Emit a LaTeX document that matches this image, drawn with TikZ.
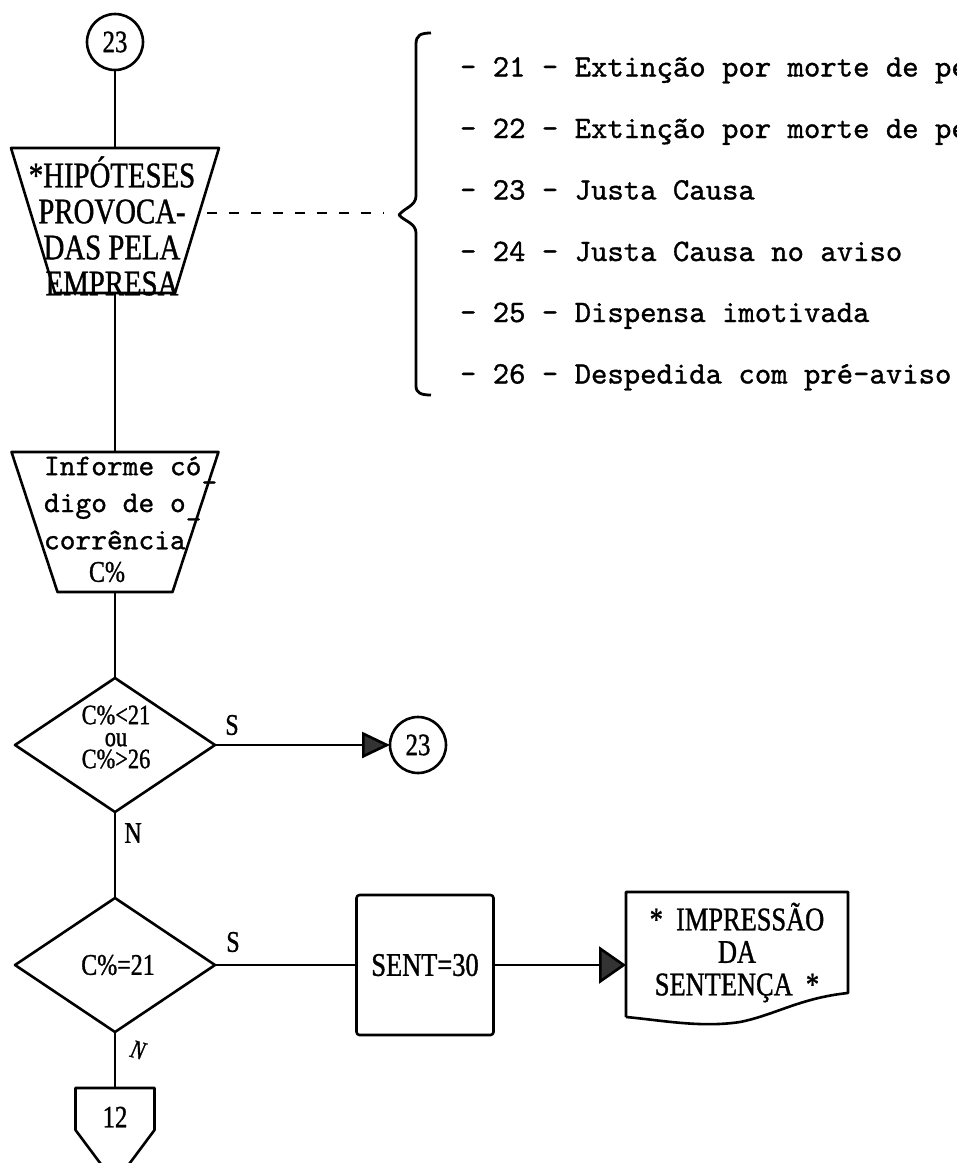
\documentclass[tikz,border=0pt]{standalone}
\usepackage{fontspec}
% typewriter faces: a condensed serif for the boxes, a mono for the code list
\newfontfamily\tw{Liberation Serif}[FakeStretch=0.8,FakeBold=1]
\newfontfamily\typewr{lmmono10-regular.otf}[FakeBold=1]
\usetikzlibrary{shapes.geometric,arrows.meta,calc}

\tikzset{
  every node/.style={inner sep=0pt, outer sep=0pt},
  frame/.style={rectangle, draw=none},
  conn/.style={circle, draw, minimum size=28pt, font=\tw\fontsize{15.5pt}{15.5pt}\selectfont},
  decision/.style={diamond, draw, shape aspect=1.5, minimum width=100pt, minimum height=67pt},
  procbox/.style={rectangle, draw, rounded corners=1.5pt, minimum width=68.5pt, minimum height=70pt,
    font=\tw\fontsize{16.5pt}{16.5pt}\selectfont},
  boxtext/.style={align=center, font=\tw\fontsize{18pt}{18pt}\selectfont},
  condtext/.style={align=center, font=\tw\fontsize{14pt}{11pt}\selectfont},
  lbl/.style={font=\tw\fontsize{15pt}{15pt}\selectfont},
  listitem/.style={anchor=base west, font=\typewr\fontsize{15.6pt}{15.6pt}\selectfont},
  tipA/.style={-{Triangle[length=14pt,width=13pt,fill=black!80]}},
  tipB/.style={-{Triangle[length=13.5pt,width=18.5pt,fill=black!80]}},
  refline/.style={dash pattern=on 5pt off 6pt},
}

\begin{document}
\begin{tikzpicture}[x=0.5pt,y=-0.5pt,line width=1.3pt,line join=round]
\fill[white] (0,0) rectangle (957,1163);
\useasboundingbox (0,0) rectangle (957,1163);

% entry connector
\node[conn] (c1) at (115,42) {23};

% manual operation: company-caused cases
\node[frame, minimum width=104pt, minimum height=72.5pt] (hyp) at (115,220.5) {};
\draw (hyp.north west) -- (hyp.north east) -- ($(hyp.south east)+(-44,0)$)
      -- ($(hyp.south west)+(44,0)$) -- cycle;
\node[boxtext] (hyptext) at (112,226)
  {*HIPÓTESES\\PROVOCA-\\DAS PELA\\EMPRESA};

% list of occurrence codes
\coordinate (dashL) at (207,213);
\coordinate (dashR) at (384,213);
\draw[refline] (dashL) -- (dashR);
\draw[line width=1.4pt] (431,33) .. controls (421,33) and (416,35) .. (416,44)
  -- (416,196) .. controls (416,206) and (404,208) .. (399,215)
  .. controls (404,221) and (416,223) .. (416,233)
  -- (416,386) .. controls (416,393) and (421,395) .. (431,395);
\node[listitem] (it21) at (460,76.5)  {- 21 - Extinção por morte de pe};
\node[listitem] (it22) at (460,138)   {- 22 - Extinção por morte de pe};
\node[listitem] (it23) at (460,199.5) {- 23 - Justa Causa};
\node[listitem] (it24) at (460,261)   {- 24 - Justa Causa no aviso};
\node[listitem] (it25) at (460,322)   {- 25 - Dispensa imotivada};
\node[listitem] (it26) at (460,383.5) {- 26 - Despedida com pré-aviso};

% manual input of the code
\node[frame, minimum width=103.5pt, minimum height=70pt] (inf) at (115,522) {};
\draw (inf.north west) -- (inf.north east) -- ($(inf.south east)+(-46,0)$)
      -- ($(inf.south west)+(46,0)$) -- cycle;
\node[anchor=west, align=left, font=\typewr\fontsize{15pt}{16.75pt}\selectfont] (inftext) at (44,503)
  {Informe có\rlap{\raisebox{-0.55em}{-}}\\digo de o\rlap{\raisebox{-0.55em}{-}}\\corrência};
\node[font=\tw\fontsize{15pt}{15pt}\selectfont] (infvar) at (107,572) {C\%};

% range test
\node[decision] (d1) at (115,745) {};
\node[condtext] (d1text) at (116,737) {C\%<21\\ou\\C\%>26};
\node[conn] (c2) at (418,745) {23};
\node[lbl] (s1) at (232,725) {S};
\node[lbl] (n1) at (133,833) {N};

% code 21 test
\node[decision] (d2) at (115,965) {};
\node[font=\tw\fontsize{15pt}{15pt}\selectfont] (d2text) at (118,965) {C\%=21};
\node[lbl] (s2) at (233,942) {S};
\node[font=\tw\itshape\fontsize{13pt}{13pt}\selectfont, rotate=-15] (n2) at (138,1050) {N};

\node[procbox] (sent) at (425,965) {SENT=30};

% printed document
\node[frame, minimum width=111pt, minimum height=62.5pt] (prt) at (737,954.5) {};
\draw (prt.south west) -- (prt.north west) -- (prt.north east) -- ($(prt.south east)+(0,-24)$)
  .. controls ($(prt.south east)+(-48,-19)$) and ($(prt.south east)+(-73,-2)$) .. ($(prt.south west)+(114,5)$)
  .. controls ($(prt.south west)+(74,11)$) and ($(prt.south west)+(34,3)$) .. (prt.south west);
\node[align=center, font=\tw\fontsize{16.5pt}{16.25pt}\selectfont] (prttext) at (737,952.5)
  {*\ \ IMPRESSÃO\\DA\\SENTENÇA\ \ *};

% off-page connector
\node[frame, minimum width=39.5pt, minimum height=21pt] (p12) at (115,1109) {};
\draw (p12.south west) -- (p12.north west) -- (p12.north east) -- (p12.south east)
  -- ($(p12.south)+(0,53)$) -- cycle;
\node[font=\tw\fontsize{15.5pt}{15.5pt}\selectfont] (p12text) at (115,1117) {12};

% flow lines
\draw (c1.south) -- (hyp.north);
\draw (hyp.south) -- (inf.north);
\draw (inf.south) -- (d1.north);
\draw (d1.south) -- (d2.north);
\draw (d2.south) -- (p12.north);
\draw[tipA] (d1.east) -- (c2.west);
\draw (d2.east) -- (sent.west);
\draw[tipB] (sent.east) -- (sent.east -| prt.west);
\end{tikzpicture}
\end{document}
